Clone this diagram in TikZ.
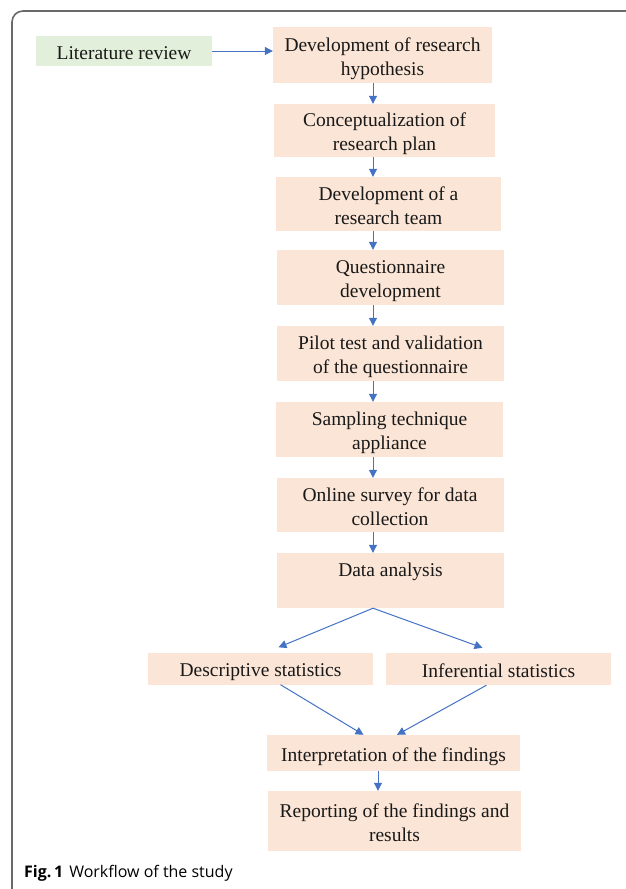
\documentclass[tikz,border=0pt]{standalone}
\usepackage{fontspec}
\setmainfont{Liberation Serif}
\newfontfamily\capfont{Open Sans}
\usetikzlibrary{arrows.meta,calc}
\definecolor{peach}{HTML}{FBE5D6}
\definecolor{leaf}{HTML}{E2EFDA}
\definecolor{arrowblue}{HTML}{4472C4}
\definecolor{framegray}{RGB}{105,105,105}

\tikzset{
    stage/.style={fill=peach,inner sep=0pt,align=center,text=black!90,
                  font=\fontsize{19.5}{24}\selectfont,
                  text height=20pt,text depth=4pt},
    pair/.style={stage,text height=44pt},
    topline/.style={stage,text depth=28pt},
    source/.style={stage,fill=leaf},
    flow/.style={draw=arrowblue,line width=1pt,
                 -{Triangle[length=8pt,width=8pt]}}
}

\begin{document}
\begin{tikzpicture}[x=1pt,y=-1pt]
    \useasboundingbox (0,0) rectangle (625,889);

    \draw [framegray,line width=1.6pt,rounded corners=11pt]
          (12,895) -- (12,11) -- (630,11);

    \node [source,minimum width=176,minimum height=30] (lit)    at (124,51)    {Literature review};
    \node [pair,minimum width=219,minimum height=56]   (hyp)    at (382.5,55)  {Development of research\\hypothesis};
    \node [pair,minimum width=221,minimum height=53]   (plan)   at (384.5,130.5) {Conceptualization of\\research plan};
    \node [pair,minimum width=225,minimum height=54]   (team)   at (388.5,204) {Development of a\\research team};
    \node [pair,minimum width=227,minimum height=55]   (quest)  at (390.5,277.5) {Questionnaire\\development};
    \node [pair,minimum width=227,minimum height=55]   (pilot)  at (390.5,353.5) {Pilot test and validation\\of the questionnaire};
    \node [pair,minimum width=227,minimum height=55]   (sample) at (389.5,429.5) {Sampling technique\\appliance};
    \node [pair,minimum width=227,minimum height=54]   (survey) at (390,505)   {Online survey for data\\collection};
    \node [topline,minimum width=227,minimum height=55] (data)  at (390.5,580.5) {Data analysis};
    \node [stage,minimum width=225,minimum height=32]  (desc)   at (260.5,668.5) {Descriptive statistics};
    \node [stage,minimum width=225,minimum height=32]  (infer)  at (498.5,669) {Inferential statistics};
    \node [stage,minimum width=253,minimum height=36]  (interp) at (393.5,753) {Interpretation of the findings};
    \node [pair,minimum width=253,minimum height=60]   (report) at (394.5,821) {Reporting of the findings and\\results};

    \coordinate (spine) at (373,0);
    \coordinate (tail)  at (378,0);

    \draw [flow] (lit.east) -- (lit.east -| hyp.west);
    \draw [flow] (hyp.south -| spine)    -- (plan.north -| spine);
    \draw [flow] (plan.south -| spine)   -- (team.north -| spine);
    \draw [flow] (team.south -| spine)   -- (quest.north -| spine);
    \draw [flow] (quest.south -| spine)  -- (pilot.north -| spine);
    \draw [flow] (pilot.south -| spine)  -- (sample.north -| spine);
    \draw [flow] (sample.south -| spine) -- (survey.north -| spine);
    \draw [flow] (survey.south -| spine) -- (data.north -| spine);
    \draw [flow] (data.south -| spine) -- ($(desc.north)+(18,-5)$);
    \draw [flow] (data.south -| spine) -- ($(infer.north)+(-16,-5)$);
    \draw [flow] ($(desc.south)+(20,0)$) -- ($(interp.north)+(-30,0)$);
    \draw [flow] ($(infer.south)+(-12,0)$) -- ($(interp.north)+(3.5,0)$);
    \draw [flow] (interp.south -| tail) -- (report.north -| tail);

    \node [anchor=base west,inner sep=0pt,font=\capfont\fontsize{16}{19}\selectfont]
          (caption) at (24,877) {\textbf{Fig.\,1}\hspace{6pt}Workflow of the study};
\end{tikzpicture}
\end{document}
